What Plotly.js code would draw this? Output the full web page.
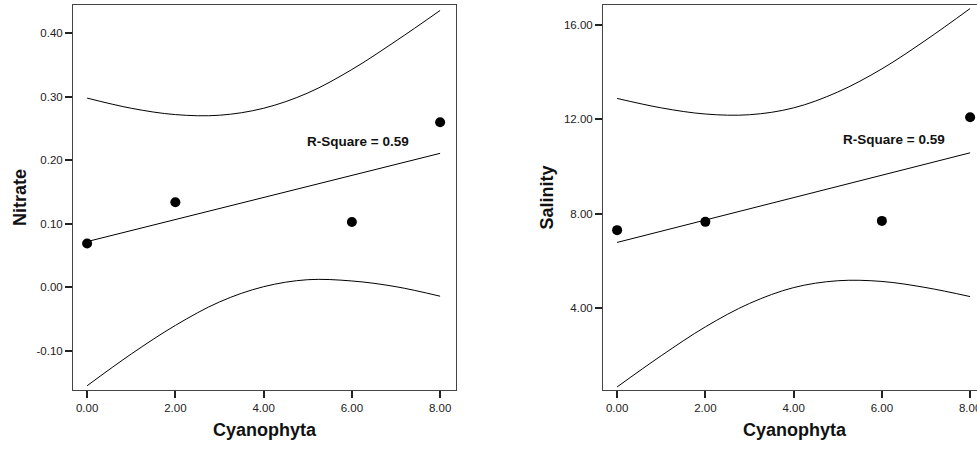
<!DOCTYPE html>
<html><head><meta charset="utf-8">
<script src="https://cdn.plot.ly/plotly-3.0.1.min.js"></script>
<style>html,body{margin:0;padding:0;overflow:hidden;background:#fff}#chart{width:995px;height:452px}</style>
</head><body><div id="chart"></div>
<script>
// Observed points
const cyanophyta = [0, 2, 6, 8];
const nitrate = [0.069, 0.134, 0.103, 0.260];
const salinity = [7.31, 7.66, 7.70, 12.08];

// Fitted line end points
const fitX = [0, 8];
const nitrateFit = [0.072, 0.211];
const salinityFit = [6.79, 10.58];

// Confidence band curves
const bandX = [0, 1, 2, 3, 4, 5, 6, 7, 8];
const nitrateUpper = [0.298, 0.282, 0.272, 0.271, 0.282, 0.306, 0.343, 0.388, 0.436];
const nitrateLower = [-0.155, -0.105, -0.060, -0.023, 0.001, 0.012, 0.010, 0.001, -0.014];
const salinityUpper = [12.88, 12.48, 12.22, 12.19, 12.48, 13.15, 14.13, 15.35, 16.68];
const salinityLower = [0.68, 2.00, 3.22, 4.21, 4.88, 5.17, 5.14, 4.88, 4.50];

// Tick values and labels
const xTicks = [0, 2, 4, 6, 8];
const xTickText = ["0.00", "2.00", "4.00", "6.00", "8.00"];
const nitrateTicks = [-0.1, 0, 0.1, 0.2, 0.3, 0.4];
const nitrateTickText = ["-0.10", "0.00", "0.10", "0.20", "0.30", "0.40"];
const salinityTicks = [4, 8, 12, 16];
const salinityTickText = ["4.00", "8.00", "12.00", "16.00"];
const rsqText = ["R-Square = 0.59", "R-Square = 0.59"];

const lineStyle = {color: '#000', width: 1};
const markerStyle = {color: '#000', size: 10};

function panel(xa, ya, yVals, fitVals, up, lo) {
  return [
    {x: bandX, y: up, xaxis: xa, yaxis: ya, mode: 'lines', line: Object.assign({shape: 'spline'}, lineStyle), hoverinfo: 'skip'},
    {x: bandX, y: lo, xaxis: xa, yaxis: ya, mode: 'lines', line: Object.assign({shape: 'spline'}, lineStyle), hoverinfo: 'skip'},
    {x: fitX, y: fitVals, xaxis: xa, yaxis: ya, mode: 'lines', line: lineStyle},
    {x: cyanophyta, y: yVals, xaxis: xa, yaxis: ya, mode: 'markers', marker: markerStyle}
  ];
}

const data = [].concat(
  panel('x', 'y', nitrate, nitrateFit, nitrateUpper, nitrateLower),
  panel('x2', 'y2', salinity, salinityFit, salinityUpper, salinityLower)
);

const W = 995, H = 452;
const tickFont = {family: 'Liberation Sans, Arial, sans-serif', size: 11.5, color: '#222'};
const titleFont = {family: 'Liberation Sans, Arial, sans-serif', size: 18, color: '#111', weight: 'bold'};

function xAxis(dom, anchor) {
  return {
    domain: dom, anchor: anchor, range: [-0.32, 8.36],
    tickmode: 'array', tickvals: xTicks, ticktext: xTickText,
    ticks: 'outside', ticklen: 7, tickwidth: 2, tickcolor: '#222',
    showline: true, mirror: true, linecolor: '#444', linewidth: 1,
    showgrid: false, zeroline: false, tickfont: tickFont,
    title: {text: 'Cyanophyta', font: titleFont, standoff: 10}
  };
}
function yAxis(range, ticks, text, title, anchor) {
  return {
    domain: [1 - 390 / H, 1 - 5 / H], anchor: anchor, range: range,
    tickmode: 'array', tickvals: ticks, ticktext: text,
    ticks: 'outside', ticklen: 7, tickwidth: 2, tickcolor: '#222',
    showline: true, mirror: true, linecolor: '#444', linewidth: 1,
    showgrid: false, zeroline: false, tickfont: tickFont,
    title: {text: title, font: titleFont, standoff: 5}
  };
}

const layout = {
  width: W, height: H, showlegend: false,
  margin: {l: 0, r: 0, t: 0, b: 0},
  paper_bgcolor: '#fff', plot_bgcolor: '#fff',
  xaxis: xAxis([73 / W, 456 / W], 'y'),
  yaxis: yAxis([-0.1617, 0.4446], nitrateTicks, nitrateTickText, 'Nitrate', 'x'),
  xaxis2: xAxis([603 / W, 986 / W], 'y2'),
  yaxis2: yAxis([0.55, 16.83], salinityTicks, salinityTickText, 'Salinity', 'x2'),
  annotations: [
    {xref: 'x', yref: 'y', x: 4.94, y: 0.229, text: '<b>' + rsqText[0] + '</b>', showarrow: false, xanchor: 'left', yanchor: 'middle',
     font: {family: 'Liberation Sans, Arial, sans-serif', size: 13.5, color: '#111'}},
    {xref: 'x2', yref: 'y2', x: 5.08, y: 11.13, text: '<b>' + rsqText[1] + '</b>', showarrow: false, xanchor: 'left', yanchor: 'middle',
     font: {family: 'Liberation Sans, Arial, sans-serif', size: 13.5, color: '#111'}}
  ]
};

Plotly.newPlot('chart', data, layout, {displayModeBar: false, staticPlot: true});
</script>
</body></html>
